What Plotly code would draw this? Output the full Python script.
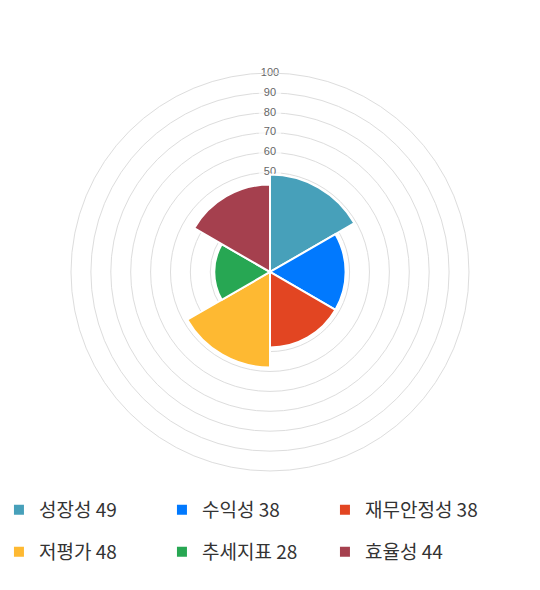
import plotly.graph_objects as go

categories = ["성장성", "수익성", "재무안정성", "저평가", "추세지표", "효율성"]
scores = [49, 38, 38, 48, 28, 44]
colors = ["#47A0BA", "#0179FE", "#E24522", "#FEB932", "#27A753", "#A5404E"]
tick_values = [10, 20, 30, 40, 50, 60, 70, 80, 90, 100]

fig = go.Figure()

# tick labels with white backdrop on the lower polar, sectors on polar2 above
fig.add_trace(go.Scatterpolar(
    r=tick_values, theta=[0] * len(tick_values),
    mode="markers+text", text=[str(v) for v in tick_values],
    textposition="middle center",
    textfont=dict(family="Liberation Sans", size=11, color="#666666"),
    marker=dict(symbol="line-ew", size=[6 * len(str(v)) + 4 for v in tick_values],
                line=dict(color="white", width=12)),
    showlegend=False, hoverinfo="skip", subplot="polar",
))

for i, (cat, val, col) in enumerate(zip(categories, scores, colors)):
    fig.add_trace(go.Barpolar(
        r=[val], theta=[30 + 60 * i], width=[60],
        name=f"{cat} {val}",
        marker=dict(color=col, line=dict(color="white", width=2)),
        legend="legend" if i < 3 else "legend2",
        subplot="polar2",
    ))

# page body has an 8px margin, so the figure is 532x582
domain = dict(x=[0.1184, 0.8665], y=[0.0191, 0.8623])
angular = dict(rotation=90, direction="clockwise", showgrid=False,
               showticklabels=False, ticks="")

legend_style = dict(
    orientation="h", x=-0.017, xanchor="left", yanchor="middle",
    entrywidth=118, font=dict(family="Noto Sans CJK KR", size=19, color="#333333"),
    bgcolor="rgba(0,0,0,0)", itemclick=False,
)

fig.update_layout(
    width=532, height=582,
    margin=dict(l=0, r=0, t=0, b=110, autoexpand=False),
    paper_bgcolor="white",
    polar=dict(
        domain=domain, bgcolor="white",
        angularaxis=dict(angular, showline=True, linecolor="#dddddd", linewidth=1),
        radialaxis=dict(range=[0, 100], tickvals=tick_values, showticklabels=False,
                        ticks="", showline=False, gridcolor="#dddddd"),
    ),
    polar2=dict(
        domain=domain, bgcolor="rgba(0,0,0,0)",
        angularaxis=dict(angular, showline=False),
        radialaxis=dict(range=[0, 100], showticklabels=False, ticks="",
                        showline=False, showgrid=False),
    ),
    legend=dict(legend_style, y=-0.0636),
    legend2=dict(legend_style, y=-0.1525),
)

fig.write_html("out.html")
